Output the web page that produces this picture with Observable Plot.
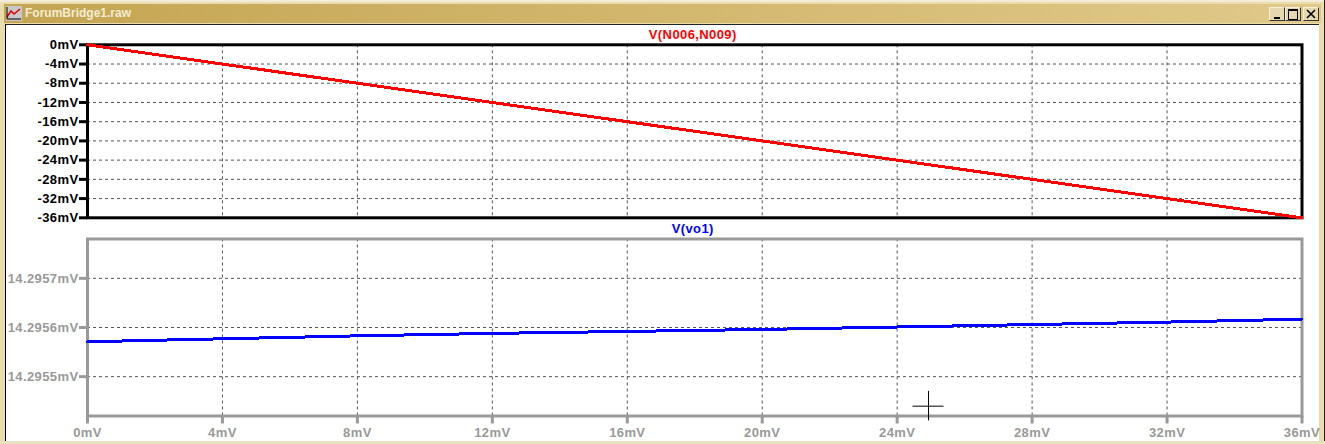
<!doctype html>
<html><head><meta charset="utf-8">
<script src="https://cdn.jsdelivr.net/npm/d3@7"></script>
<script src="https://cdn.jsdelivr.net/npm/@observablehq/plot@0.6"></script>
<style>
html,body{margin:0;padding:0;background:#fff}
#win{position:relative;width:1325px;height:444px;background:#ebdcae;overflow:hidden;font-family:"Liberation Sans",sans-serif}
#edgeT{position:absolute;left:0;top:0;width:1325px;height:2px;background:#f3ecd6}
#edgeR{position:absolute;right:0;top:0;width:1px;height:444px;background:#222}
#edgeB{position:absolute;left:0;bottom:0;width:1325px;height:3px;background:#e9e0c2}
#bar{position:absolute;left:4px;top:4px;width:1317px;height:19px;background:linear-gradient(90deg,#c4a552,#e0c98a)}
#icon{position:absolute;left:2px;top:2px;width:16px;height:15px;background:#c8c8c8}
#ttl{position:absolute;left:21px;top:2px;font:bold 12px "Liberation Sans",sans-serif;color:#f4ecd0;line-height:15px}
.btn{position:absolute;top:3px;width:14px;height:12px;background:#e6d8ae;border-right:1px solid #333;border-bottom:1px solid #333;border-top:1px solid #f5efd8;border-left:1px solid #f5efd8;color:#000;box-sizing:content-box}
.btn i{position:absolute;display:block}
#client{position:absolute;left:5px;top:24px;width:1314px;height:417px;background:#fff;border-left:1px solid #000;border-top:1px solid #222;box-sizing:border-box}
#p1,#p2{position:absolute;left:0;width:1325px}
#p1{top:22px}#p2{top:222px}
svg{overflow:visible;background:transparent!important;display:block}
[aria-label="line"] path{shape-rendering:crispEdges}
</style></head><body>
<div id="win">
<div id="edgeT"></div><div id="edgeR"></div><div id="edgeB"></div>
<div id="bar"><div id="icon"><svg width="16" height="15"><path d="M1 11 L5 5 L8 8 L14 3" fill="none" stroke="#e00000" stroke-width="1.5"/><path d="M1 13H15M1 1V13" stroke="#000" fill="none"/></svg></div>
<div id="ttl">ForumBridge1.raw</div>
<div class="btn" style="left:1265px"><i style="left:4px;top:9px;width:6px;height:2px;background:#000"></i></div>
<div class="btn" style="left:1281px"><i style="left:2px;top:1px;width:8px;height:8px;border:1px solid #000;border-top-width:2px"></i></div>
<div class="btn" style="left:1299px"><svg width="14" height="12" style="position:absolute;left:0;top:0"><path d="M3 2L11 10M11 2L3 10" stroke="#000" stroke-width="1.6"/></svg></div></div>
<div id="client"></div>
<div id="p1"></div><div id="p2"></div>
</div>
<script>
const xTicks=[0,4,8,12,16,20,24,28,32,36];
const topTicks=[0,-4,-8,-12,-16,-20,-24,-28,-32,-36];
const bottomTicks=[14.2957,14.2956,14.2955];
const xInput=[0,4,8,12,16,20,24,28,32,36];
const redValues=[0,-4,-8,-12,-16,-20,-24,-28,-32,-36];
const blueValues=[14.295571,14.295577,14.295583,14.295588,14.295592,14.295596,14.295601,14.295606,14.295611,14.295617];
const cursorX=24.93, cursorY=14.29544;
const fmt=d=>d+"mV";
const base={width:1325,marginLeft:87,marginRight:23.5,style:{fontFamily:"Liberation Sans",fontSize:"13px",fontWeight:"bold",letterSpacing:"0.4px",background:"transparent",overflow:"visible"}};
const gridDash={stroke:"#555",strokeOpacity:1,strokeWidth:1,strokeDasharray:"3,3"};
const inner=xTicks.slice(1,-1);
const p1=Plot.plot({...base,height:200,marginTop:22.3,marginBottom:4.7,
 x:{domain:[0,36]},y:{domain:[-36,0]},
 marks:[
  Plot.gridX(inner,gridDash),
  Plot.gridY(topTicks.slice(1,-1),gridDash),
  Plot.frame({stroke:"#000",strokeWidth:3}),
  Plot.axisY(topTicks,{tickFormat:fmt,tickSize:8,strokeWidth:3,stroke:"#000",fill:"#000",tickPadding:1,label:null}),
  Plot.axisX([],{label:null}),
  Plot.line(xInput.map((x,i)=>({x,y:redValues[i]})),{x:"x",y:"y",stroke:"#f00",strokeWidth:3}),
  Plot.text(["V(N006,N009)"],{frameAnchor:"top",dy:-15,dx:-2,fill:"#f00"})
 ]});
document.getElementById("p1").append(p1);
const p2=Plot.plot({...base,height:222,marginTop:16.5,marginBottom:28.5,
 x:{domain:[0,36]},y:{domain:[14.29542,14.29578]},
 marks:[
  Plot.gridX(inner,gridDash),
  Plot.gridY(bottomTicks,gridDash),
  Plot.frame({stroke:"#999",strokeWidth:3}),
  Plot.axisY(bottomTicks,{tickFormat:d=>d.toFixed(4)+"mV",tickSize:8,strokeWidth:3,stroke:"#999",fill:"#999",tickPadding:1,label:null}),
  Plot.axisX(xTicks,{tickFormat:fmt,tickSize:8,strokeWidth:3,stroke:"#999",fill:"#999",tickPadding:4,label:null}),
  Plot.line(xInput.map((x,i)=>({x,y:blueValues[i]})),{x:"x",y:"y",stroke:"#00f",strokeWidth:3}),
  Plot.text(["V(vo1)"],{frameAnchor:"top",dy:-15,dx:-2,fill:"#00f"}),
  Plot.ruleX([cursorX],{y1:14.29541,y2:14.29547,stroke:"#000",strokeWidth:1}),
  Plot.ruleY([cursorY],{x1:cursorX-0.46,x2:cursorX+0.46,stroke:"#000",strokeWidth:1})
 ]});
document.getElementById("p2").append(p2);
</script>
</body></html>
